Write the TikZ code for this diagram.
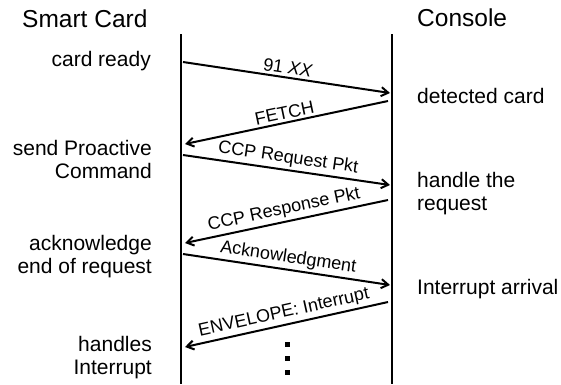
\documentclass[tikz,border=0pt]{standalone}
\usepackage{fontspec}
\setmainfont{Liberation Sans}
\usetikzlibrary{arrows.meta}

\tikzstyle{party} = [inner sep=0pt, anchor=west, font=\fontsize{24.5}{27}\selectfont]
\tikzstyle{card state} = [inner sep=0pt, anchor=east, align=right, font=\fontsize{21}{23}\selectfont]
\tikzstyle{console state} = [inner sep=0pt, anchor=west, align=left, font=\fontsize{21}{23}\selectfont]
\tikzstyle{lifeline} = [draw, line width=2.6pt]
\tikzstyle{message} = [draw, line width=2pt, -{Straight Barb[length=7pt,width=9pt]}]
\tikzstyle{msg label} = [midway, above, sloped, inner sep=2.5pt, font=\fontsize{18}{20}\selectfont]
\tikzstyle{dot} = [rectangle, fill=black, minimum size=5pt, inner sep=0pt]

\begin{document}
\begin{tikzpicture}[x=1pt, y=-1pt]
        \useasboundingbox (0,0) rectangle (561,384);
        \node[party] (card) at (22,19) {Smart Card};
        \node[party] (console) at (417,18) {Console};
        % the two lifelines
        \foreach \pos/\name in {{(181,34)/cardtop}, {(181,384)/cardbot}, {(392,34)/contop}, {(392,384)/conbot}}
            \node[coordinate] (\name) at \pos {};
        \path[lifeline] (cardtop) -- (cardbot);
        \path[lifeline] (contop) -- (conbot);
        % message end points on the card (a) and console (b) side
        \foreach \pos/\name in {{(183,62)/a1}, {(390,93)/b1}, {(388,101)/b2}, {(185,144)/a2},
                                {(183,155)/a3}, {(390,185)/b3}, {(388,200)/b4}, {(185,243)/a4},
                                {(183,254)/a5}, {(390,285)/b5}, {(388,302)/b6}, {(185,347)/a6}}
            \node[coordinate] (\name) at \pos {};
        \foreach \source/\dest/\txt in {a1/b1/{91 \textit{XX}}, b2/a2/FETCH, a3/b3/CCP Request Pkt,
                                        b4/a4/CCP Response Pkt, a5/b5/Acknowledgment, b6/a6/ENVELOPE: Interrupt}
            \path[message] (\source) -- node[msg label] {\txt} (\dest);
        \foreach \y in {344,358,372}
            \node[dot] (dot\y) at (287,\y) {};
        % what each side does
        \node[card state] (ready) at (151,61) {card ready};
        \node[card state] (send) at (152,159) {send Proactive\\Command};
        \node[card state] (ack) at (152,257) {acknowledge\\end of request};
        \node[card state] (handles) at (152,358) {handles\\Interrupt};
        \node[console state] (detected) at (417,96) {detected card};
        \node[console state] (handle) at (417,194) {handle the\\request};
        \node[console state] (arrival) at (417,289) {Interrupt arrival};
    \end{tikzpicture}
\end{document}
